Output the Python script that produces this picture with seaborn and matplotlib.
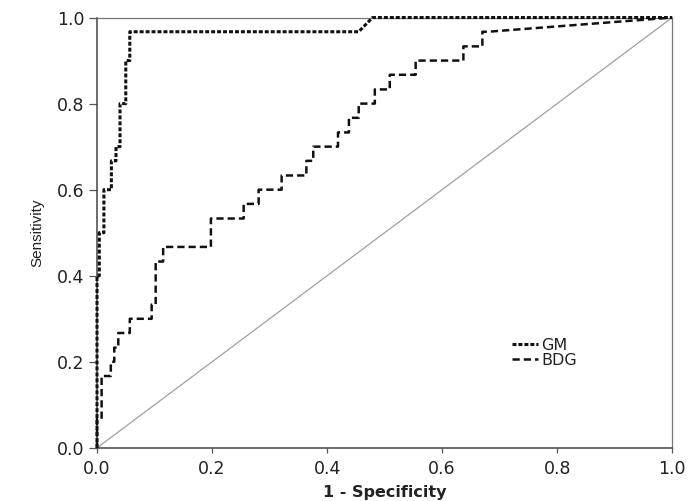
import matplotlib
matplotlib.use("Agg")
import matplotlib.pyplot as plt
import pandas as pd
import seaborn as sns

# ROC vertices (1 - specificity, sensitivity)
gm_fpr = [0.0, 0.0, 0.004, 0.004, 0.012, 0.012, 0.025, 0.025, 0.033, 0.033,
          0.040, 0.040, 0.050, 0.050, 0.057, 0.057, 0.455, 0.479, 1.0]
gm_tpr = [0.0, 0.400, 0.400, 0.500, 0.500, 0.600, 0.600, 0.667, 0.667, 0.700,
          0.700, 0.800, 0.800, 0.900, 0.900, 0.967, 0.967, 1.0, 1.0]

bdg_fpr = [0.0, 0.0, 0.008, 0.008, 0.024, 0.024, 0.030, 0.030, 0.037, 0.037,
           0.057, 0.057, 0.095, 0.095, 0.102, 0.102, 0.115, 0.115, 0.198, 0.198,
           0.255, 0.255, 0.281, 0.281, 0.321, 0.321, 0.364, 0.364, 0.376, 0.376,
           0.419, 0.419, 0.438, 0.438, 0.455, 0.455, 0.483, 0.483, 0.509, 0.509,
           0.554, 0.554, 0.637, 0.637, 0.670, 0.670, 0.680, 1.0]
bdg_tpr = [0.0, 0.067, 0.067, 0.167, 0.167, 0.200, 0.200, 0.233, 0.233, 0.267,
           0.267, 0.300, 0.300, 0.333, 0.333, 0.433, 0.433, 0.467, 0.467, 0.533,
           0.533, 0.567, 0.567, 0.600, 0.600, 0.633, 0.633, 0.667, 0.667, 0.700,
           0.700, 0.733, 0.733, 0.767, 0.767, 0.800, 0.800, 0.833, 0.833, 0.867,
           0.867, 0.900, 0.900, 0.933, 0.933, 0.967, 0.967, 1.0]

ticks = [0.0, 0.2, 0.4, 0.6, 0.8, 1.0]
tick_labels = ["0.0", "0.2", "0.4", "0.6", "0.8", "1.0"]


def main() -> None:
    sns.set_theme(style="ticks")
    plt.rcParams["font.family"] = ["DejaVu Sans"]

    gm = pd.DataFrame({"fpr": gm_fpr, "tpr": gm_tpr})
    bdg = pd.DataFrame({"fpr": bdg_fpr, "tpr": bdg_tpr})

    fig = plt.figure(figsize=(6.88, 5.01), dpi=100)
    ax = fig.add_axes([0.141, 0.106, 0.836, 0.859])

    ax.axline((0, 0), slope=1, color="#a0a0a0", linewidth=0.9, zorder=1)
    sns.lineplot(data=gm, x="fpr", y="tpr", sort=False, estimator=None, ax=ax,
                 color="#111111", linewidth=2.2, linestyle=(0, (1.3, 0.65)),
                 label="GM", clip_on=False, zorder=3)
    sns.lineplot(data=bdg, x="fpr", y="tpr", sort=False, estimator=None, ax=ax,
                 color="#111111", linewidth=1.8, linestyle=(0, (2.9, 1.6)),
                 label="BDG", clip_on=False, zorder=3)

    ax.set_xlim(0, 1)
    ax.set_ylim(0, 1)
    ax.set_xticks(ticks, tick_labels)
    ax.set_yticks(ticks, tick_labels)
    ax.tick_params(axis="both", colors="#555555", labelcolor="#222222",
                   labelsize=12.5, width=0.9)
    ax.tick_params(axis="y", length=6, pad=3)
    ax.tick_params(axis="x", length=3.5, pad=5)
    for side in ["left", "bottom"]:
        ax.spines[side].set_color("#444444")
        ax.spines[side].set_linewidth(1.1)
    for side in ["top", "right"]:
        ax.spines[side].set_color("#777777")
        ax.spines[side].set_linewidth(0.9)

    ax.set_xlabel("1 - Specificity", fontsize=11.5, fontweight="bold",
                  color="#222222", labelpad=5)
    ax.set_ylabel("Sensitivity", fontsize=11, color="#222222", labelpad=9,
                  family=["Liberation Sans Narrow", "Liberation Sans", "DejaVu Sans"])

    ax.legend(loc="upper left", bbox_to_anchor=(0.722, 0.256), frameon=False,
              borderaxespad=0, borderpad=0, handlelength=1.6,
              handletextpad=0.2, labelspacing=0.0, labelcolor="#222222",
              prop={"weight": "medium", "size": 11.5})

    fig.savefig("out.png", dpi=100)
    plt.close(fig)


if __name__ == "__main__":
    main()
